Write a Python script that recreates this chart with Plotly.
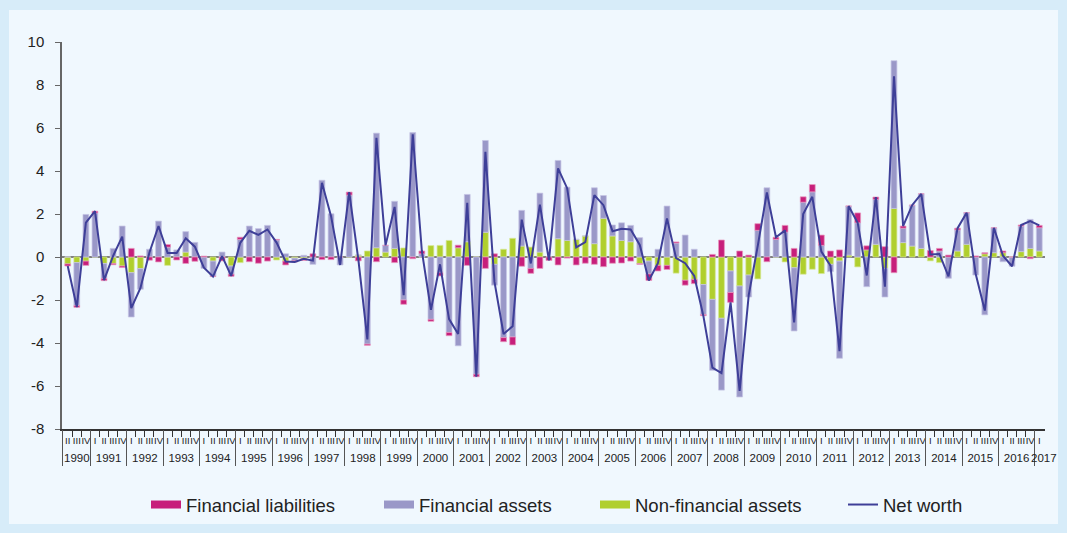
import plotly.graph_objects as go

# ---------------- data (quarterly, 1990 Q2 - 2017 Q1) ----------------
first_year = 1990
last_year = 2017
quarter_names = ["I", "II", "III", "IV"]

financial_liabilities = [
    -0.10, -0.08, -0.20, 0.08, -0.10, -0.06, -0.07, 0.40, 0.05, -0.15,
    -0.23, 0.12, -0.14, -0.30, -0.20, 0.04, -0.02, -0.18, -0.10, 0.10,
    -0.22, -0.29, -0.19, 0.03, -0.18, -0.06, -0.08, 0.15, -0.12, -0.12,
    0.00, 0.14, -0.18, -0.06, -0.22, 0.00, -0.26, -0.20, -0.08, 0.13,
    -0.09, -0.15, -0.15, 0.12, -0.39, -0.12, -0.53, 0.15, -0.19, -0.37,
    -0.43, -0.23, -0.53, -0.16, -0.37, -0.05, -0.37, -0.29, -0.34, -0.45,
    -0.29, -0.28, -0.19, -0.03, -0.30, -0.26, -0.19, 0.05, -0.23, -0.20,
    -0.05, 0.12, 0.79, -0.46, 0.28, 0.09, 0.31, -0.22, 0.10, 0.31,
    0.40, 0.25, 0.34, 0.48, 0.28, 0.33, 0.00, 0.46, 0.19, 0.11,
    0.48, -0.73, 0.10, 0.00, 0.00, 0.30, 0.12, 0.09, 0.08, 0.00,
    0.05, 0.05, 0.00, 0.08, 0.00, 0.05, -0.08, 0.11,
]

financial_assets = [
    0.00, -2.00, 1.98, 2.05, -0.70, 0.40, 1.44, -2.06, -0.96, 0.36,
    1.67, 0.46, 0.33, 0.95, 0.68, -0.53, -0.70, 0.23, -0.38, 0.82,
    1.44, 1.32, 1.47, 0.79, 0.15, -0.12, 0.08, -0.34, 3.57, 2.01,
    -0.37, 2.88, 0.00, -4.05, 5.33, 0.31, 2.19, -2.00, 5.79, 0.15,
    -2.90, -0.73, -3.51, -4.13, 2.20, -5.45, 4.27, -0.97, -3.75, -3.72,
    1.66, -0.53, 2.74, 0.00, 3.64, 2.48, 0.00, 0.00, 2.60, 1.06,
    0.51, 0.82, 0.76, 0.90, -0.60, 0.36, 2.37, 0.65, 1.02, 0.36,
    -1.40, -3.30, -3.34, -1.00, -5.16, -1.02, 1.24, 3.22, 0.82, 1.16,
    -2.94, 2.55, 3.03, 0.54, -0.34, -4.52, 2.28, 1.59, -1.38, 2.09,
    -1.33, 6.87, 0.67, 1.90, 2.54, 0.00, 0.28, -0.99, 0.98, 1.47,
    -0.84, -2.69, 1.16, -0.22, -0.43, 1.19, 1.35, 1.08,
]

non_financial_assets = [
    -0.32, -0.26, -0.19, 0.00, -0.30, -0.30, -0.42, -0.73, -0.54, 0.00,
    0.00, -0.39, 0.00, 0.23, 0.00, 0.00, -0.19, 0.00, -0.42, -0.26,
    0.00, 0.00, 0.00, -0.14, -0.19, -0.05, -0.08, 0.00, 0.00, 0.00,
    0.00, 0.00, 0.09, 0.28, 0.43, 0.23, 0.40, 0.42, 0.00, 0.00,
    0.53, 0.54, 0.77, 0.43, 0.71, 0.00, 1.15, -0.34, 0.36, 0.87,
    0.51, 0.46, 0.23, 0.00, 0.85, 0.77, 0.82, 0.98, 0.62, 1.80,
    0.98, 0.77, 0.71, -0.31, -0.19, -0.39, -0.39, -0.75, -1.08, -1.04,
    -1.28, -1.97, -2.85, -0.65, -1.35, -0.84, -1.02, 0.00, 0.00, -0.23,
    -0.50, -0.80, -0.57, -0.77, -0.34, -0.19, 0.09, -0.46, 0.33, 0.59,
    -0.53, 2.26, 0.67, 0.51, 0.40, -0.18, -0.26, 0.00, 0.28, 0.59,
    0.00, 0.15, 0.20, 0.20, 0.00, 0.25, 0.40, 0.28,
]

net_worth = [
    -0.42, -2.33, 1.60, 2.13, -1.08, 0.05, 0.95, -2.38, -1.45, 0.21,
    1.44, 0.19, 0.19, 0.87, 0.48, -0.50, -0.91, 0.04, -0.88, 0.66,
    1.22, 1.03, 1.28, 0.67, -0.21, -0.23, -0.08, -0.17, 3.45, 1.90,
    -0.37, 3.02, -0.09, -3.83, 5.54, 0.54, 2.33, -1.78, 5.71, 0.28,
    -2.46, -0.34, -2.89, -3.58, 2.52, -5.57, 4.89, -1.16, -3.58, -3.22,
    1.74, -0.30, 2.44, -0.16, 4.12, 3.20, 0.45, 0.69, 2.88, 2.41,
    1.20, 1.31, 1.28, 0.56, -1.09, -0.29, 1.79, -0.05, -0.29, -0.88,
    -2.73, -5.15, -5.40, -2.11, -6.23, -1.77, 0.53, 3.00, 0.92, 1.24,
    -3.04, 2.00, 2.80, 0.25, -0.40, -4.38, 2.37, 1.59, -0.86, 2.79,
    -1.38, 8.40, 1.44, 2.41, 2.94, 0.12, 0.14, -0.90, 1.34, 2.06,
    -0.79, -2.49, 1.36, 0.06, -0.43, 1.49, 1.67, 1.47,
]

y_tick_values = [-8, -6, -4, -2, 0, 2, 4, 6, 8, 10]
y_tick_labels = ["-8", "-6", "-4", "-2", "0", "2", "4", "6", "8", "10"]

# category labels: 1990 Q2 ... 2017 Q1
year_labels, quarter_labels = [], []
for y in range(first_year, last_year + 1):
    for qi, q in enumerate(quarter_names):
        if y == first_year and qi == 0:
            continue
        if y == last_year and qi > 0:
            continue
        year_labels.append(str(y))
        quarter_labels.append(q)

n = len(year_labels)
for arr in (financial_liabilities, financial_assets, non_financial_assets, net_worth):
    assert len(arr) == n, (len(arr), n)

xpos = list(range(n))                      # category index on the x axis
periods = [f"{yy} {qq}" for yy, qq in zip(year_labels, quarter_labels)]

# year groups: centre position for the label, boundaries for dividers
years_unique = []
for yy in year_labels:
    if yy not in years_unique:
        years_unique.append(yy)
year_centres, year_bounds = [], [-0.6]
for yy in years_unique:
    idx = [i for i, v in enumerate(year_labels) if v == yy]
    year_centres.append((idx[0] + idx[-1]) / 2 if len(idx) > 1 else idx[0] + 0.5)
    if idx[-1] < n - 1:
        year_bounds.append(idx[-1] + 0.5)

# ---------------- styling ----------------
C_LIAB = "#C71F7B"
C_FIN = "#9A98C8"
C_NONFIN = "#B0CF2E"
C_NET = "#3E3F98"
BG_IN = "#F0F8FE"
BG_FRAME = "#D7ECF9"
FONT = "Liberation Sans, Arial, sans-serif"
NARROW = "Liberation Sans Narrow, Arial Narrow, Liberation Sans, Arial, sans-serif"
TXT = "#222222"

W, H = 1067, 533
L, R, T, B = 62, 22, 42, 104
pw, ph = W - L - R, H - T - B


def px_x(p):
    return (p - L) / pw


def px_y(p):
    return (H - B - p) / ph


fig = go.Figure()

fig.add_trace(go.Bar(x=xpos, y=non_financial_assets, name="Non-financial assets",
                     customdata=periods,
                     marker=dict(color=C_NONFIN, line=dict(color="rgba(215,232,150,0.9)", width=0.8)),
                     showlegend=False))
fig.add_trace(go.Bar(x=xpos, y=financial_assets, name="Financial assets",
                     customdata=periods,
                     marker=dict(color=C_FIN, line=dict(color="rgba(198,197,228,0.9)", width=0.8)),
                     showlegend=False))
fig.add_trace(go.Bar(x=xpos, y=financial_liabilities, name="Financial liabilities",
                     customdata=periods,
                     marker=dict(color=C_LIAB, line=dict(color="rgba(232,150,190,0.9)", width=0.8)),
                     showlegend=False))
# the line sits on the overlaid year axis (same range) so it is drawn on top
fig.add_trace(go.Scatter(x=xpos, y=net_worth, name="Net worth", mode="lines",
                         customdata=periods, xaxis="x2", yaxis="y",
                         line=dict(color=C_NET, width=2), showlegend=False))

# legend entries (one legend each, placed like the original)
legend_items = [
    ("Financial liabilities", C_LIAB, 8, "legend", 186),
    ("Financial assets", C_FIN, 8, "legend2", 419),
    ("Non-financial assets", C_NONFIN, 8, "legend3", 635),
    ("Net worth", C_NET, 2, "legend4", 883),
]
legend_layout = {}
for name, col, w, lg, text_x in legend_items:
    fig.add_trace(go.Scatter(x=[None], y=[None], mode="lines", name=name,
                             line=dict(color=col, width=w), legend=lg, showlegend=True))
    legend_layout[lg] = dict(
        x=px_x(text_x - 40), xanchor="left", y=px_y(505), yanchor="middle",
        orientation="h", bgcolor="rgba(0,0,0,0)", borderwidth=0,
        font=dict(size=18.5, family=FONT, color=TXT),
    )

# frame: inner panel over a light-blue border
fig.add_shape(type="rect", xref="paper", yref="paper",
              x0=px_x(9), x1=px_x(W - 9), y0=px_y(H - 9), y1=px_y(10),
              fillcolor=BG_IN, line=dict(width=0), layer="below")

xrange = [-0.63, n - 1 + 0.63]

fig.update_layout(
    template="none",
    width=W, height=H,
    margin=dict(l=L, r=R, t=T, b=B, pad=0, autoexpand=False),
    paper_bgcolor=BG_FRAME,
    plot_bgcolor=BG_IN,
    barmode="relative",
    bargap=0.36,
    font=dict(family=FONT, color=TXT),
    hovermode="x",
    xaxis=dict(
        range=xrange, automargin=False,
        showline=True, linecolor="#333333", linewidth=1.5,
        tickmode="array", tickvals=xpos, ticktext=quarter_labels,
        ticks="", tickangle=0,
        tickfont=dict(size=9.5, family=NARROW, color=TXT),
        ticklabelstandoff=2,
        minor=dict(tickmode="array", tickvals=[i - 0.5 for i in range(1, n)],
                   ticks="outside", ticklen=6, tickcolor="#333333", tickwidth=1,
                   showgrid=False),
        showgrid=False, zeroline=False,
    ),
    xaxis2=dict(
        range=xrange, overlaying="x", anchor="y", side="bottom", automargin=False,
        showline=False,
        tickmode="array", tickvals=year_centres, ticktext=years_unique,
        ticks="", tickangle=0,
        tickfont=dict(size=11.5, family=FONT, color=TXT),
        ticklabelstandoff=20,
        minor=dict(tickmode="array", tickvals=year_bounds,
                   ticks="outside", ticklen=36, tickcolor="#555555", tickwidth=1,
                   showgrid=False),
        showgrid=False, zeroline=False,
    ),
    yaxis=dict(
        range=[-8, 10], automargin=False,
        tickmode="array", tickvals=y_tick_values, ticktext=y_tick_labels,
        ticks="outside", ticklen=5, tickcolor="#666666",
        showline=True, linecolor="#666666", linewidth=1.5,
        showgrid=False,
        zeroline=True, zerolinecolor="#808080", zerolinewidth=1.5,
        tickfont=dict(size=15, family=FONT, color=TXT),
        ticklabelstandoff=8,
    ),
    **legend_layout,
)

fig.write_html("out.html",
               config={"displayModeBar": False},
               post_script="document.body.style.margin='0';document.body.style.overflow='hidden';")
